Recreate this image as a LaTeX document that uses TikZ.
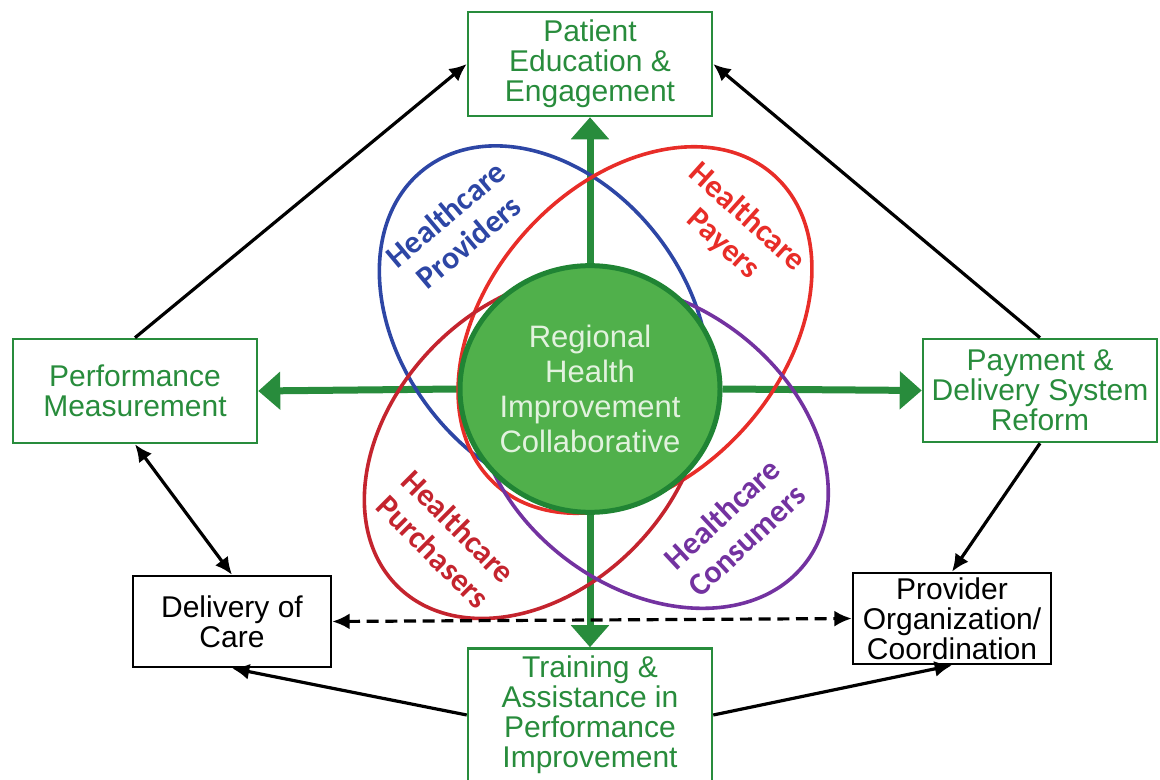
\documentclass[tikz,border=0pt]{standalone}
\usepackage{fontspec}
\setmainfont{Liberation Sans}
\newfontfamily\ovalfont{Carlito}
\usetikzlibrary{arrows.meta,shapes.geometric}
\definecolor{rhicgreen}{RGB}{40,140,60}
\definecolor{rhicfill}{RGB}{80,176,75}
\definecolor{rhicedge}{RGB}{32,132,52}
\definecolor{rhictext}{RGB}{226,242,222}
\definecolor{provblue}{RGB}{45,70,165}
\definecolor{payred}{RGB}{232,45,40}
\definecolor{purchred}{RGB}{196,36,46}
\definecolor{conspurple}{RGB}{115,50,160}
\tikzset{every picture/.style={line width=0.75pt}}
\pgfdeclarelayer{back}
\pgfdeclarelayer{mid}
\pgfsetlayers{back,mid,main}
\tikzset{
  boxtext/.style={font=\fontsize{22.5}{22.5}\selectfont, align=center, inner sep=0pt},
  greenbox/.style={boxtext, draw=rhicgreen, text=rhicgreen, line width=1.9pt},
  blackbox/.style={boxtext, draw=black, text=black, line width=1.9pt},
  rhicnode/.style={ellipse, draw=rhicedge, line width=3.75pt, fill=rhicfill, text=rhictext,
    minimum width=195pt, minimum height=185pt, inner sep=0pt, align=center,
    font=\fontsize{23.25}{26.25}\selectfont},
  ovaltext/.style={font=\ovalfont\bfseries\fontsize{24}{27}\selectfont, align=center, inner sep=0pt},
  ovalline/.style={line width=2.7pt},
  greenarrow/.style={draw=rhicgreen, line width=5.25pt, -{Triangle[width=27.75pt,length=16.5pt]}},
  blackarrow/.style={draw=black, line width=2.4pt, -{Latex[length=13pt,width=12pt]}},
  twoway/.style={draw=black, line width=2.4pt, {Latex[length=13pt,width=12pt]}-{Latex[length=13pt,width=12pt]}}
}

\begin{document}
\begin{tikzpicture}[x=0.75pt,y=0.75pt,yscale=-1,xscale=1]
\useasboundingbox (0,0) rectangle (1160,780);

\begin{pgfonlayer}{mid}
%Shape: Ellipse [Healthcare Providers]
\draw [ovalline, provblue, rotate around={52:(544,323)}] (544,323) ellipse [x radius=195, y radius=143];
%Shape: Ellipse [Healthcare Payers]
\draw [ovalline, payred, rotate around={-48:(635,330)}] (635,330) ellipse [x radius=208, y radius=147];
%Shape: Ellipse [Healthcare Purchasers]
\draw [ovalline, purchred, rotate around={-46:(534,447)}] (534,447) ellipse [x radius=195, y radius=142];
%Shape: Ellipse [Healthcare Consumers]
\draw [ovalline, conspurple, rotate around={37:(652,446)}] (652,446) ellipse [x radius=193, y radius=142];
\end{pgfonlayer}

%Shape: Circle
\draw (590,389) node [rhicnode] (rhic) {Regional\\Health\\Improvement\\Collaborative};

% Text Node
\draw (590,64) node [greenbox, minimum width=183pt, minimum height=78pt] (edu) {Patient\\Education \&\\Engagement};
% Text Node
\draw (135,391) node [greenbox, minimum width=183pt, minimum height=78pt] (perf) {Performance\\Measurement};
% Text Node
\draw (1040,390.5) node [greenbox, minimum width=175.5pt, minimum height=77.25pt] (pay) {Payment \&\\Delivery System\\Reform};
% Text Node
\draw (590,715) node [greenbox, minimum width=183pt, minimum height=99.75pt] (train) {Training \&\\Assistance in\\Performance\\Improvement};
% Text Node
\draw (232,621.5) node [blackbox, minimum width=148.5pt, minimum height=68.25pt] (doc) {Delivery of\\Care};
% Text Node
\draw (952,618.5) node [blackbox, minimum width=148.5pt, minimum height=68.25pt] (prov) {Provider\\Organization/\\Coordination};

% Text Node
\draw (457,228) node [ovaltext, text=provblue, rotate=40] (lblprov) {Healthcare\\Providers};
% Text Node
\draw (735,231) node [ovaltext, text=payred, rotate=-42] (lblpayr) {Healthcare\\Payers};
% Text Node
\draw (446,539) node [ovaltext, text=purchred, rotate=-45] (lblpurch) {Healthcare\\Purchasers};
% Text Node
\draw (734,527) node [ovaltext, text=conspurple, rotate=43] (lblcons) {Healthcare\\Consumers};

\begin{pgfonlayer}{back}
%Straight Lines
\draw [greenarrow] (rhic.north) -- (edu.south);
\draw [greenarrow] (rhic.west) -- (perf.east);
\draw [greenarrow] (rhic.east) -- (pay.west);
\draw [greenarrow] (rhic.south) -- (train.north);
\end{pgfonlayer}

%Straight Lines
\draw [blackarrow] (perf.north) -- (edu.west);
\draw [blackarrow] (pay.north) -- (edu.east);
\draw [twoway] (perf.south) -- (doc.north);
\draw [blackarrow] (pay.south) -- (prov.north);
\draw [twoway, dash pattern=on 9pt off 5pt] (doc.east) -- (prov.west);
\draw [blackarrow] (train.west) -- (doc.south);
\draw [blackarrow] (train.east) -- (prov.south);

\end{tikzpicture}
\end{document}
